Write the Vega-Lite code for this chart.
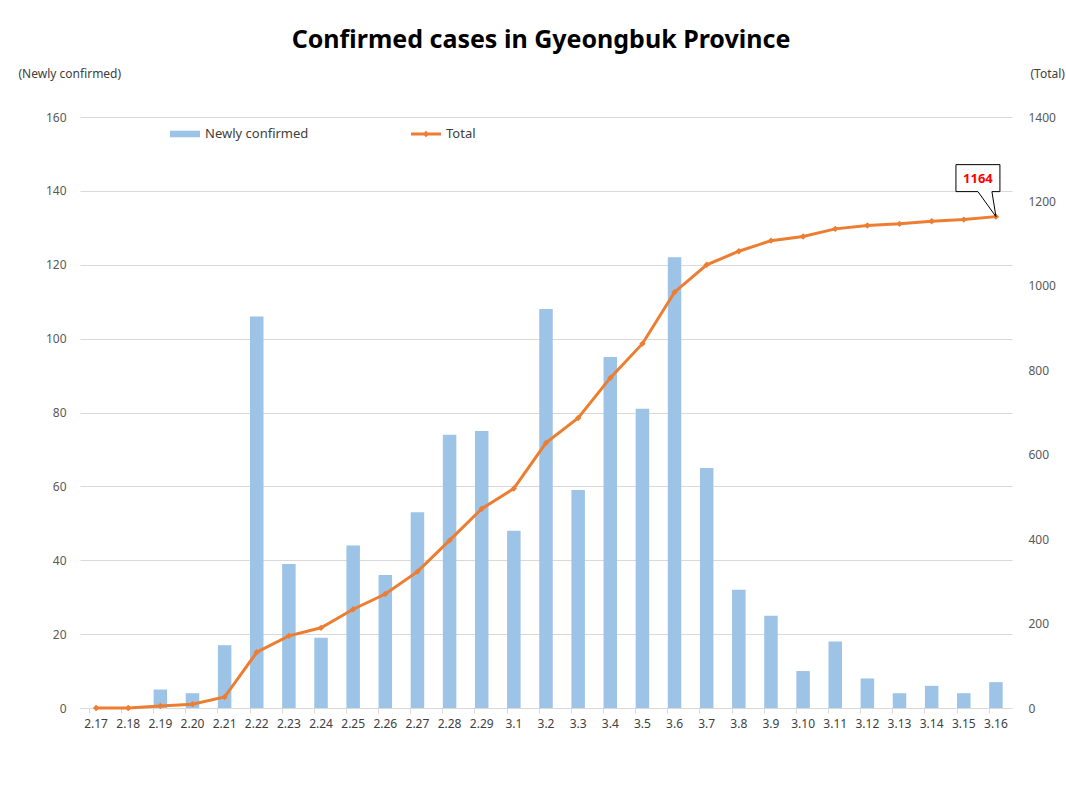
{
  "$schema": "https://vega.github.io/schema/vega-lite/v6.json",
  "width": 932,
  "height": 591,
  "autosize": {"type": "none"},
  "padding": {"left": 80, "top": 117, "right": 54, "bottom": 91},
  "background": "white",
  "title": {
    "text": "Confirmed cases in Gyeongbuk Province",
    "font": "Noto Sans",
    "fontSize": 25,
    "fontWeight": "bold",
    "color": "#000000",
    "anchor": "middle",
    "offset": 14,
    "dx": -5
  },
  "config": {
    "view": {"stroke": null},
    "font": "Noto Sans"
  },
  "data": {
    "values": [
      {"date": "2.17", "new": 0, "total": 0},
      {"date": "2.18", "new": 0, "total": 0},
      {"date": "2.19", "new": 5, "total": 5},
      {"date": "2.20", "new": 4, "total": 9},
      {"date": "2.21", "new": 17, "total": 26},
      {"date": "2.22", "new": 106, "total": 132},
      {"date": "2.23", "new": 39, "total": 171},
      {"date": "2.24", "new": 19, "total": 190},
      {"date": "2.25", "new": 44, "total": 234},
      {"date": "2.26", "new": 36, "total": 270},
      {"date": "2.27", "new": 53, "total": 323},
      {"date": "2.28", "new": 74, "total": 397},
      {"date": "2.29", "new": 75, "total": 472},
      {"date": "3.1", "new": 48, "total": 520},
      {"date": "3.2", "new": 108, "total": 628},
      {"date": "3.3", "new": 59, "total": 687},
      {"date": "3.4", "new": 95, "total": 782},
      {"date": "3.5", "new": 81, "total": 863},
      {"date": "3.6", "new": 122, "total": 985},
      {"date": "3.7", "new": 65, "total": 1050},
      {"date": "3.8", "new": 32, "total": 1082},
      {"date": "3.9", "new": 25, "total": 1107},
      {"date": "3.10", "new": 10, "total": 1117},
      {"date": "3.11", "new": 18, "total": 1135},
      {"date": "3.12", "new": 8, "total": 1143},
      {"date": "3.13", "new": 4, "total": 1147},
      {"date": "3.14", "new": 6, "total": 1153},
      {"date": "3.15", "new": 4, "total": 1157},
      {"date": "3.16", "new": 7, "total": 1164}
    ]
  },
  "encoding": {
    "x": {
      "field": "date",
      "type": "nominal",
      "sort": null,
      "scale": {"paddingInner": 0.58, "paddingOuter": 0.29},
      "axis": {
        "title": null,
        "labelAngle": 0,
        "labelFontSize": 12,
        "labelColor": "#404040",
        "labelPadding": 5,
        "domainColor": "#d9d9d9",
        "tickColor": "#d9d9d9",
        "tickSize": 5,
        "bandPosition": 0,
        "grid": false
      }
    }
  },
  "layer": [
    {
      "mark": {"type": "bar"},
      "encoding": {
        "y": {
          "field": "new",
          "type": "quantitative",
          "scale": {"domain": [0, 160]},
          "axis": {
            "values": [0, 20, 40, 60, 80, 100, 120, 140, 160],
            "domain": false,
            "ticks": false,
            "labelPadding": 14,
            "labelFontSize": 12,
            "labelColor": "#595959",
            "grid": true,
            "gridColor": "#d9d9d9",
            "title": "(Newly confirmed)",
            "titleAngle": 0,
            "titleX": -62,
            "titleY": -44,
            "titleAlign": "left",
            "titleBaseline": "middle",
            "titleFontSize": 12,
            "titleFontWeight": "normal",
            "titleColor": "#404040"
          }
        },
        "color": {
          "datum": "Newly confirmed",
          "type": "nominal",
          "scale": {"domain": ["Newly confirmed", "Total"], "range": ["#9DC3E6", "#ED7D31"]},
          "legend": {
            "title": null,
            "orient": "none",
            "direction": "horizontal",
            "legendX": 90,
            "legendY": 2,
            "symbolSize": 900,
            "labelFontSize": 13,
            "labelColor": "#404040",
            "columnPadding": 102,
            "labelOffset": 5,
            "encode": {
              "symbols": {
                "update": {
                  "shape": {"signal": "datum.value === 'Total' ? 'M-1,-0.1H1V0.1H-1Z M0,-0.22 L0.22,0 L0,0.22 L-0.22,0 Z' : 'M-1,-0.22H1V0.22H-1Z'"},
                  "fill": {"scale": "color", "field": "value"},
                  "fillOpacity": {"value": 1},
                  "opacity": {"value": 1},
                  "strokeWidth": {"value": 0}
                }
              }
            }
          }
        }
      }
    },
    {
      "encoding": {
        "y": {
          "field": "total",
          "type": "quantitative",
          "scale": {"domain": [0, 1400]},
          "axis": {
            "orient": "right",
            "values": [0, 200, 400, 600, 800, 1000, 1200, 1400],
            "format": "d",
            "domain": false,
            "ticks": false,
            "grid": false,
            "labelPadding": 16,
            "labelFontSize": 12,
            "labelColor": "#595959",
            "title": "(Total)",
            "titleAngle": 0,
            "titleX": 18,
            "titleY": -44,
            "titleAlign": "left",
            "titleBaseline": "middle",
            "titleFontSize": 12,
            "titleFontWeight": "normal",
            "titleColor": "#404040"
          }
        }
      },
      "layer": [
        {
          "mark": {
            "type": "line",
            "strokeWidth": 3,
            "point": {"shape": "diamond", "size": 40, "filled": true, "color": "#ED7D31"}
          },
          "encoding": {
            "color": {"datum": "Total", "type": "nominal"}
          }
        },
        {
          "transform": [{"filter": "datum.date === '3.16'"}],
          "mark": {
            "type": "point",
            "shape": "M0,0 L-0.077,-0.481 L0.077,-0.481 L0.077,-1 L-0.769,-1 L-0.769,-0.481 L-0.346,-0.481 Z",
            "size": 10816,
            "filled": true,
            "fill": "white",
            "stroke": "#000000",
            "strokeWidth": 1,
            "opacity": 1
          },
          "encoding": {}
        },
        {
          "transform": [{"filter": "datum.date === '3.16'"}],
          "mark": {
            "type": "text",
            "dx": -18,
            "dy": -38,
            "align": "center",
            "baseline": "middle",
            "fontSize": 13,
            "fontWeight": "bold",
            "color": "#FF0000"
          },
          "encoding": {"text": {"field": "total", "type": "quantitative"}}
        }
      ]
    }
  ],
  "resolve": {"scale": {"y": "independent"}}
}
